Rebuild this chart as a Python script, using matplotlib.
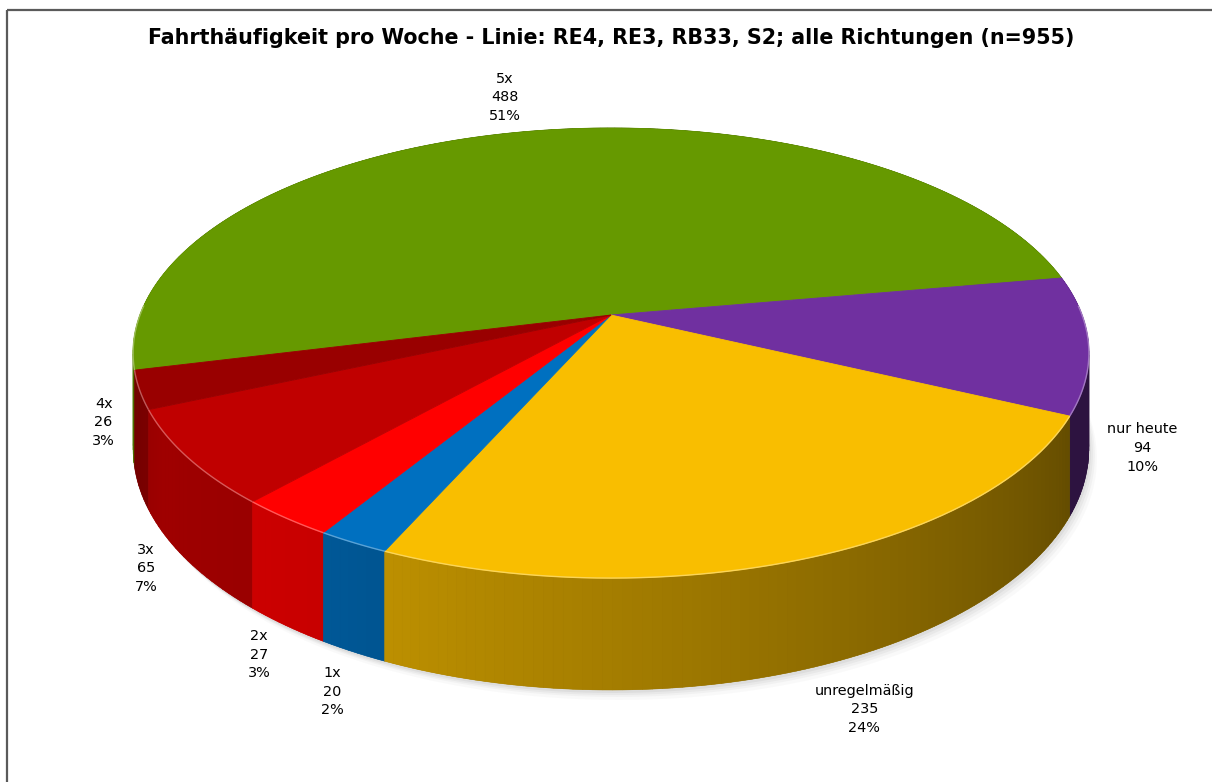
import numpy as np
import matplotlib
matplotlib.use("Agg")
import matplotlib.pyplot as plt
from matplotlib.collections import PolyCollection
from matplotlib.colors import to_rgb

# ---------------- data ----------------
categories = ["5x", "nur heute", "unregelmäßig", "1x", "2x", "3x", "4x"]
values = [488, 94, 235, 20, 27, 65, 26]
pct_labels = [51, 10, 24, 2, 3, 7, 3]
colors = ["#669900", "#7030A0", "#F9BE00", "#0070C0", "#FF0000", "#C00000", "#990000"]
title = "Fahrthäufigkeit pro Woche - Linie: RE4, RE3, RB33, S2; alle Richtungen (n=955)"

# ---------------- layout ----------------
W, Hpx = 1212, 782
CX, CY = 611.0, 315.0      # pie centre (pixels)
RX, RY = 471.0, 218.6      # radii
K = 0.169                  # perspective strength
THICK = 93.0               # pie thickness
START = 194.0              # first slice angle (math degrees), clockwise
# label offsets from bottom rim at slice middle (pixels)
label_offsets = [(-22, -114), (54, 8), (59, 40), (-21, 40), (-27, 29), (-42, 7), (-36, -66)]


def proj(t_deg, z=0.0, r=1.0):
    t = np.radians(t_deg)
    X = r * np.cos(t)
    Y = r * np.sin(t)
    d = 1 + K * Y
    return CX + RX * X / d, CY - RY * Y / d + z * THICK / d


def shade(a):
    a = ((a + 200) % 360) - 200
    return np.interp(a, [-200, -170, -150, -120, -25, 20, 160],
                     [0.66, 0.74, 0.83, 0.78, 0.40, 0.40, 0.40])


fig = plt.figure(figsize=(W / 100, Hpx / 100), dpi=100)
ax = fig.add_axes([0, 0, 1, 1])
ax.set_xlim(0, W)
ax.set_ylim(Hpx, 0)
ax.axis("off")

total = float(sum(values))
spans = [360.0 * v / total for v in values]
bounds = [START]
for s in spans:
    bounds.append(bounds[-1] - s)

# soft shadow under the pie
tt = np.linspace(0, 360, 361)
for ox, oy, al in [(8, 10, 0.04), (6, 7, 0.06), (4, 5, 0.08), (2, 3, 0.10)]:
    pts = [proj(t, 1.0) for t in tt]
    ax.add_patch(plt.Polygon([(x + ox, y + oy) for x, y in pts], closed=True,
                             facecolor="#7f7f7f", edgecolor="none", alpha=al, zorder=1))

# side walls: a base polygon per slice, then shaded strips on top
quads, qcols, keys = [], [], []
for i, (a0, a1) in enumerate(zip(bounds[:-1], bounds[1:])):
    n = max(2, int(abs(a0 - a1) / 1.0))
    ts = np.linspace(a0, a1, n + 1)
    base = np.array(to_rgb(colors[i]))
    top_pts = [proj(t) for t in ts]
    bot_pts = [proj(t, 1.0) for t in ts[::-1]]
    midf = shade(0.5 * (a0 + a1))
    if np.min(np.sin(np.radians(ts))) < 0.2:
        ax.add_patch(plt.Polygon(top_pts + bot_pts, closed=True,
                                 facecolor=tuple(np.clip(base * midf, 0, 1)),
                                 edgecolor="none", zorder=1.5))
    for t1, t2 in zip(ts[:-1], ts[1:]):
        p1 = proj(t1); p2 = proj(t2)
        q1 = proj(t1, 1.0); q2 = proj(t2, 1.0)
        quads.append([p1, p2, q2, q1])
        f = shade(0.5 * (t1 + t2))
        qcols.append(tuple(np.clip(base * f, 0, 1)))
        keys.append(np.sin(np.radians(0.5 * (t1 + t2))))
order = np.argsort(keys)[::-1]
pc = PolyCollection([quads[j] for j in order], facecolors=[qcols[j] for j in order],
                    edgecolors=[qcols[j] for j in order], linewidths=0.4, zorder=2)
ax.add_collection(pc)

# tops
for i, (a0, a1) in enumerate(zip(bounds[:-1], bounds[1:])):
    n = max(2, int(abs(a0 - a1) / 0.5))
    ts = np.linspace(a0, a1, n + 1)
    pts = [proj(0, 0, 0)] + [proj(t) for t in ts]
    ax.add_patch(plt.Polygon(pts, closed=True, facecolor=colors[i], edgecolor=colors[i],
                             linewidth=0.6, zorder=3))
    # light rim highlight on front edge
    front = [t for t in ts if np.sin(np.radians(t)) < 0.05]
    if len(front) > 1:
        base = np.array(to_rgb(colors[i]))
        hl = tuple(np.clip(base + (1 - base) * 0.35, 0, 1))
        xs, ys = zip(*[proj(t) for t in front])
        ax.plot(xs, ys, color=hl, lw=1.0, zorder=4, solid_capstyle="butt")

# labels
for i, (a0, a1) in enumerate(zip(bounds[:-1], bounds[1:])):
    mid = 0.5 * (a0 + a1)
    ax_, ay_ = proj(mid, 1.0)
    dx, dy = label_offsets[i]
    ax.text(ax_ + dx, ay_ + dy, f"{categories[i]}\n{values[i]}\n{pct_labels[i]}%",
            ha="center", va="center", fontsize=10.4, linespacing=1.42,
            color="#000000", family="DejaVu Sans", zorder=5)

# title
ax.text(611, 38, title, ha="center", va="center", fontsize=14.9, fontweight="bold",
        family="DejaVu Sans", color="#000000", zorder=5)

# frame
ax.plot([7, W], [10, 10], color="#5a5a5a", lw=1.6, zorder=6, solid_capstyle="butt")
ax.plot([7, 7], [10, Hpx], color="#5a5a5a", lw=1.6, zorder=6, solid_capstyle="butt")

fig.savefig("out.png", dpi=100)
